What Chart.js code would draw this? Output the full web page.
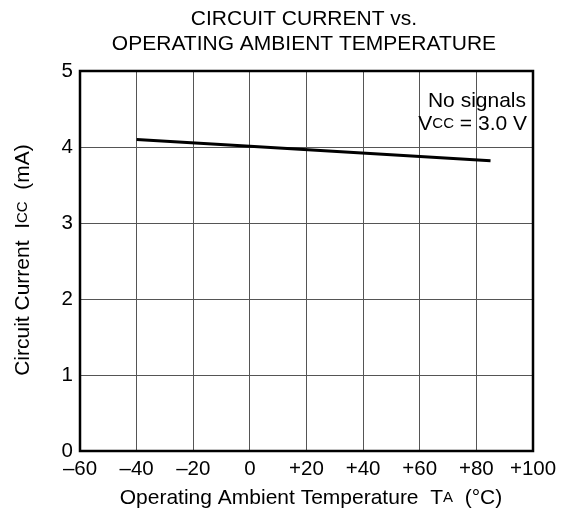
<!DOCTYPE html>
<html>
<head>
<meta charset="utf-8">
<script src="https://cdn.jsdelivr.net/npm/chart.js@4"></script>
<style>
  html, body { margin: 0; padding: 0; background: #fff; }
  #wrap { width: 563px; height: 518px; }
</style>
</head>
<body>
<div id="wrap"><canvas id="iccChart" width="563" height="518"></canvas></div>
<script>
// values
const temps = [-40, 0, 85];          // Ta (°C)
const current = [4.10, 4.01, 3.82];  // Icc (mA)
const xTicks = [-60, -40, -20, 0, 20, 40, 60, 80, 100];
const yTicks = [0, 1, 2, 3, 4, 5];
const titleLines = ['CIRCUIT CURRENT vs.', 'OPERATING AMBIENT TEMPERATURE'];

const FONT = '"Liberation Sans", Arial, sans-serif';

function fmtTemp(v) {
    if (v < 0) return '\u2013' + Math.abs(v);
    if (v > 0) return '+' + v;
    return '0';
}

// draws a run of [text, size] pieces starting at x
function drawRuns(ctx, runs, x, y) {
    runs.forEach(([txt, size]) => {
        ctx.font = size + 'px ' + FONT;
        ctx.fillText(txt, x, y);
        x += ctx.measureText(txt).width;
    });
}
function runsWidth(ctx, runs) {
    let w = 0;
    runs.forEach(([txt, size]) => {
        ctx.font = size + 'px ' + FONT;
        w += ctx.measureText(txt).width;
    });
    return w;
}

const extras = {
    id: 'extras',
    afterDraw(chart) {
        const ctx = chart.ctx;
        const a = chart.chartArea;
        ctx.save();
        // frame
        ctx.strokeStyle = '#000';
        ctx.lineWidth = 2.5;
        ctx.strokeRect(a.left, a.top, a.right - a.left, a.bottom - a.top);

        ctx.fillStyle = '#000';
        ctx.textBaseline = 'middle';

        // title
        ctx.textAlign = 'center';
        ctx.font = '21px ' + FONT;
        ctx.fillText(titleLines[0], 304, 19);
        ctx.fillText(titleLines[1], 304, 44);

        // conditions note
        ctx.textAlign = 'left';
        const note1 = [['No signals', 21]];
        const note2 = [['V', 21], ['CC', 15], [' = 3.0 V', 21]];
        drawRuns(ctx, note1, 526 - runsWidth(ctx, note1), 101);
        drawRuns(ctx, note2, 527 - runsWidth(ctx, note2), 124);

        // x axis title
        const xt = [['Operating Ambient Temperature  T', 21], ['A', 15], ['  (\u00B0C)', 21]];
        drawRuns(ctx, xt, 311 - runsWidth(ctx, xt) / 2, 498);

        // y axis title
        const yt = [['Circuit Current  I', 21], ['CC', 15], ['  (mA)', 21]];
        ctx.translate(23, 260);
        ctx.rotate(-Math.PI / 2);
        drawRuns(ctx, yt, -runsWidth(ctx, yt) / 2, 0);
        ctx.restore();
    }
};

new Chart(document.getElementById('iccChart').getContext('2d'), {
    type: 'line',
    data: {
        datasets: [{
            data: temps.map((t, i) => ({ x: t, y: current[i] })),
            borderColor: '#000',
            borderWidth: 3,
            pointRadius: 0,
            fill: false,
            tension: 0
        }]
    },
    options: {
        responsive: false,
        animation: false,
        layout: { padding: { left: 0, right: 30, top: 71, bottom: 0 } },
        plugins: {
            legend: { display: false },
            title: { display: false },
            tooltip: { enabled: false }
        },
        scales: {
            x: {
                type: 'linear',
                min: -60,
                max: 100,
                afterBuildTicks: s => { s.ticks = xTicks.map(v => ({ value: v })); },
                afterFit: s => { s.height = 67; },
                ticks: {
                    color: '#000',
                    font: { family: FONT, size: 20.5 },
                    padding: 6,
                    maxRotation: 0,
                    autoSkip: false,
                    callback: v => fmtTemp(v)
                },
                grid: { color: '#555', lineWidth: 1, drawTicks: false },
                border: { display: false }
            },
            y: {
                min: 0,
                max: 5,
                afterBuildTicks: s => { s.ticks = yTicks.map(v => ({ value: v })); },
                afterFit: s => { s.width = 80; },
                ticks: {
                    color: '#000',
                    font: { family: FONT, size: 20.5 },
                    padding: 7
                },
                grid: { color: '#555', lineWidth: 1, drawTicks: false },
                border: { display: false }
            }
        }
    },
    plugins: [extras]
});
</script>
</body>
</html>
